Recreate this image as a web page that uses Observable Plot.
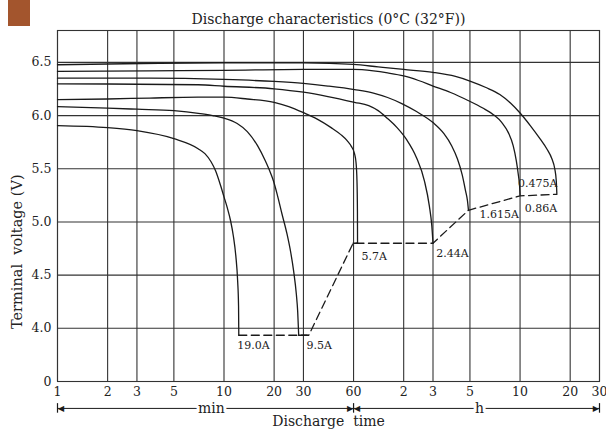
<!DOCTYPE html>
<html><head><meta charset="utf-8">
<script src="https://cdn.jsdelivr.net/npm/d3@7"></script>
<script src="https://cdn.jsdelivr.net/npm/@observablehq/plot@0.6"></script>
<style>
body{margin:0;background:#fff;}
#wrap{position:relative;width:606px;height:437px;}
#sq{position:absolute;left:8px;top:0;width:22px;height:26px;background:#a3552d;}
#wrap svg{position:absolute;left:0;top:0;}
</style></head><body>
<div id="wrap"><div id="sq"></div></div>
<script>
// discharge time in minutes, terminal voltage in V
const currents = ["19.0A","9.5A","5.7A","2.44A","1.615A","0.86A","0.475A"];
const time_19A  = [1,2,3,5,6.99,7.68,8.36,8.9,9.55,10,10.47,10.96,11.38,11.78,12.08,12.23,12.27];
const volt_19A  = [5.906,5.887,5.858,5.783,5.689,5.642,5.566,5.481,5.34,5.236,5.132,5.009,4.868,4.679,4.443,4.208,3.935];
const time_9_5A = [1,2,3,5,7.2,8.55,10,12,13.8,15.9,17.7,18.7,19.8,20.9,22.3,23.9,25.2,26.2,27.2,27.7,28.1];
const volt_9_5A = [6.085,6.07,6.06,6.047,6.019,6.0,5.976,5.925,5.849,5.717,5.575,5.49,5.387,5.255,5.075,4.887,4.708,4.538,4.32,4.16,3.935];
const time_5_7A = [1,2,3.57,6.99,10,13.8,20,24.5,30,36.3,44,50.3,54.9,58.3,60.8,62.1,62.9,63.3,63.4];
const volt_5_7A = [6.151,6.156,6.165,6.173,6.173,6.156,6.125,6.085,6.028,5.967,5.887,5.821,5.764,5.708,5.642,5.557,5.387,5.104,4.80];
const time_2_44A = [1,2,6.99,10,20,30,42.1,60.8,74,84.3,96.1,109.5,125,143.3,159.8,171.1,177.1,180];
const volt_2_44A = [6.299,6.297,6.29,6.276,6.252,6.22,6.179,6.125,6.094,6.047,5.972,5.887,5.774,5.604,5.387,5.151,4.962,4.80];
const time_1_615A = [1,3.57,10,20,30,42.1,60.8,79,96.1,116.9,143.3,180,209.4,232.9,252.2,269.6,282.4,290,293.9];
const volt_1_615A = [6.352,6.352,6.34,6.321,6.302,6.278,6.245,6.212,6.17,6.113,6.038,5.934,5.83,5.717,5.594,5.443,5.292,5.198,5.11];
const time_0_86A = [1,3.57,10,30,60,79,96.1,120,147.3,180,229.6,292.2,358.2,414.9,466.7,510.2,545.4,569.8,586.9,596,600];
const volt_0_86A = [6.415,6.42,6.425,6.434,6.434,6.42,6.401,6.373,6.33,6.278,6.217,6.142,6.071,6.009,5.934,5.84,5.717,5.575,5.434,5.34,5.25];
const time_0_475A = [1,2,4.09,10,30,60,84.3,120,180,245.5,300,374.3,453.6,525.4,600,694.8,793.8,871.4,931.6,969.5,990,998];
const volt_0_475A = [6.478,6.485,6.492,6.497,6.495,6.481,6.458,6.434,6.406,6.368,6.325,6.264,6.198,6.118,6.024,5.901,5.778,5.684,5.594,5.5,5.387,5.265];

// end-of-discharge voltage line (dashed) and short solid stubs
const endTime = [12.27,32.3,59.6,180,293.9,600,998];
const endVolt = [3.935,3.935,4.80,4.80,5.11,5.245,5.26];
const stubTime = [[28.1,31.6],[59.6,63.4]];
const stubVolt = [[3.935,3.935],[4.80,4.80]];

// current labels
const labelText = ["19.0A","9.5A","5.7A","2.44A","1.615A","0.86A","0.475A"];
const labelTime = [12.0,31.3,67,188,343,641,584];
const labelVolt = [3.84,3.84,4.68,4.70,5.07,5.13,5.36];

// axes
const xTickValues = [1,2,3,5,10,20,30,60,120,180,300,600,1200,1800];
const xTickLabels = ["1","2","3","5","10","20","30","60","2","3","5","10","20","30"];
const yTickValues = [3.5,4.0,4.5,5.0,5.5,6.0,6.5];
const yTickLabels = ["0","4.0","4.5","5.0","5.5","6.0","6.5"];
const yGrid = [4.0,4.5,5.0,5.5,6.0,6.5];
const titleText = "Discharge characteristics (0°C (32°F))";
const xLabel = "Discharge  time";
const yLabel = "Terminal  voltage (V)";
const yLabelV = 4.72;
const unitText = ["min","h"];
const unitTime = [8.4,342];
const unitSpans = [[1,60],[60,1800]];
const rowV = 3.247;

const series = [time_19A,time_9_5A,time_5_7A,time_2_44A,time_1_615A,time_0_86A,time_0_475A];
const vols = [volt_19A,volt_9_5A,volt_5_7A,volt_2_44A,volt_1_615A,volt_0_86A,volt_0_475A];
const rows = [];
currents.forEach((c,i)=>series[i].forEach((t,j)=>rows.push({c, t, v: vols[i][j]})));
const endRows = endTime.map((t,i)=>({t, v:endVolt[i]}));
const stubRows = [];
stubTime.forEach((s,i)=>s.forEach((t,j)=>stubRows.push({k:i,t,v:stubVolt[i][j]})));
const labels = labelText.map((s,i)=>({s,t:labelTime[i],v:labelVolt[i]}));
const xTicks = xTickValues.map((t,i)=>({t, s:xTickLabels[i]}));
const yTicks = yTickValues.map((v,i)=>({v, s:yTickLabels[i]}));
const spanRows = unitSpans.map(([a,b])=>({a,b}));
const units = unitText.map((s,i)=>({s,t:unitTime[i]}));
const bars = [1,60,1800];

const grid = "#333";
const ink = "#1a1a1a";
const chart = Plot.plot({
  width: 606, height: 437,
  marginLeft: 57, marginRight: 7, marginTop: 30, marginBottom: 56,
  style: {fontFamily: "DejaVu Serif", fontSize: "12.5px", background: "transparent", overflow: "visible", color: "#222"},
  x: {type: "log", domain: [1,1800], axis: null},
  y: {domain: [3.5,6.8], axis: null},
  marks: [
    Plot.ruleX(xTickValues, {stroke: grid, strokeWidth: 1.1}),
    Plot.ruleY(yGrid, {stroke: grid, strokeWidth: 1.1}),
    Plot.frame({stroke: grid, strokeWidth: 1.1}),
    Plot.text(xTicks, {x: "t", text: "s", frameAnchor: "bottom", dy: 14, fill: "#222"}),
    Plot.text(yTicks, {y: "v", text: "s", frameAnchor: "left", textAnchor: "end", dx: -6, fill: "#222"}),
    Plot.line(rows, {x: "t", y: "v", z: "c", curve: "monotone-x", stroke: ink, strokeWidth: 1.3}),
    Plot.line(endRows, {x: "t", y: "v", stroke: ink, strokeWidth: 1.3, strokeDasharray: "8,4.5"}),
    Plot.line(stubRows, {x: "t", y: "v", z: "k", stroke: ink, strokeWidth: 1.3}),
    Plot.text(labels, {x: "t", y: "v", text: "s", textAnchor: "start", fontSize: 11, fill: "#222"}),
    Plot.text([titleText], {frameAnchor: "top", dy: -16, fontSize: 14, fill: "#222"}),
    Plot.text([yLabel], {x: 1, y: yLabelV, dx: -40, rotate: -90, fontSize: 14.5, fill: "#222"}),
    Plot.text([xLabel], {frameAnchor: "bottom", dy: 44, fontSize: 14, fill: "#222"}),
    Plot.link(spanRows, {x1: "a", x2: "b", y1: rowV, y2: rowV, stroke: ink, strokeWidth: 1}),
    Plot.ruleX(bars, {y1: rowV - 0.045, y2: rowV + 0.045, stroke: ink, strokeWidth: 1.2}),
    Plot.text(units, {x: "t", y: rowV, text: "s", fontSize: 14, fill: "#222", stroke: "white", strokeWidth: 6, paintOrder: "stroke"}),
    Plot.text([1,60], {x: d => d, y: rowV, text: () => "\u25C0", textAnchor: "start", dx: 0.5, fontFamily: "DejaVu Sans", fontSize: 8, fill: ink}),
    Plot.text([60,1800], {x: d => d, y: rowV, text: () => "\u25B6", textAnchor: "end", dx: -0.5, fontFamily: "DejaVu Sans", fontSize: 8, fill: ink})
  ]
});
document.getElementById("wrap").appendChild(chart);
</script>
</body></html>
